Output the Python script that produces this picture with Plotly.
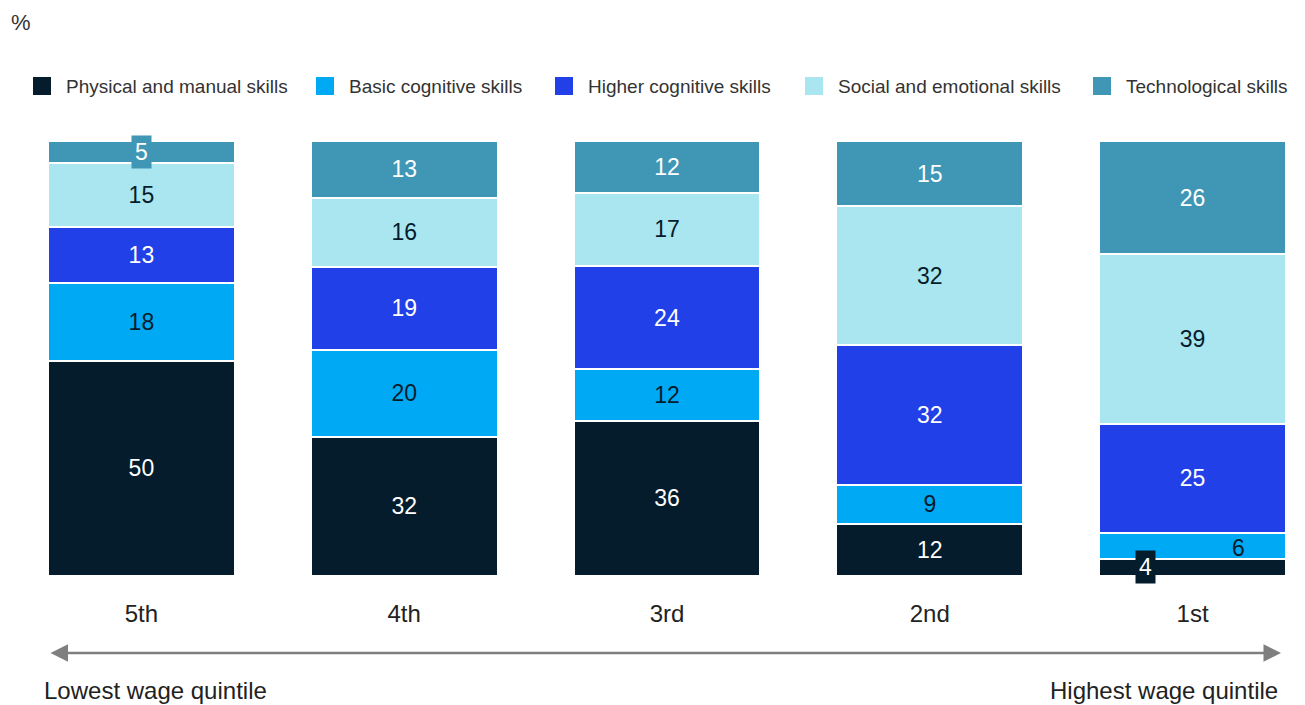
import plotly.graph_objects as go

quintiles = ["5th", "4th", "3rd", "2nd", "1st"]
series_names = ["Physical and manual skills", "Basic cognitive skills", "Higher cognitive skills",
                "Social and emotional skills", "Technological skills"]
physical = [50, 32, 36, 12, 4]
basic = [18, 20, 12, 9, 6]
higher = [13, 19, 24, 32, 25]
social = [15, 16, 17, 32, 39]
tech = [5, 13, 12, 15, 26]

series_values = [physical, basic, higher, social, tech]
colors = ["#051C2C", "#00A9F4", "#2140E8", "#AAE6F0", "#3F97B5"]
text_colors = ["white", "#051C2C", "white", "#051C2C", "white"]

FONT = "Liberation Sans"
OFF = 8  # page body margin
W, H = 1305 - OFF, 705 - OFF
# plot area in reference (window) pixels
L, R, T, B = 48, 1286, 141, 576

def px(x):
    return (x - L) / (R - L)

def py(y):
    return (B - y) / (B - T)

totals = [sum(v[i] for v in series_values) for i in range(len(quintiles))]

NUM = 23
fig = go.Figure()
small = 7
for name, vals, col, tc in zip(series_names, series_values, colors, text_colors):
    texts = [str(v) if v >= small else "" for v in vals]
    fig.add_trace(go.Bar(
        x=quintiles, y=vals, name=name, marker=dict(color=col, line=dict(color="white", width=2)),
        text=texts, textposition="inside", insidetextanchor="middle",
        textfont=dict(color=tc, size=NUM, family=FONT), width=0.711, showlegend=False,
    ))

# annotations for small segments
annotations = []
for si, (vals, col, tc) in enumerate(zip(series_values, colors, text_colors)):
    for qi, v in enumerate(vals):
        if v >= small:
            continue
        below = sum(series_values[k][qi] for k in range(si))
        mid = (below + v / 2) / totals[qi] * 100
        if si == 0:
            annotations.append(dict(x=qi, y=mid, xref="x", yref="y", text=str(v), showarrow=False,
                                    xshift=-47, yshift=0, bgcolor=col,
                                    font=dict(color="white", size=NUM, family=FONT), borderpad=3))
        elif si == 1:
            annotations.append(dict(x=qi, y=mid, xref="x", yref="y", text=str(v), showarrow=False,
                                    xshift=46, yshift=-2, font=dict(color=tc, size=NUM, family=FONT)))
        else:
            annotations.append(dict(x=qi, y=mid, xref="x", yref="y", text=str(v), showarrow=False,
                                    bgcolor=col, font=dict(color="white", size=NUM, family=FONT),
                                    borderpad=3))

# manual legend
box_x = [33, 316, 555, 805, 1093]
for name, col, bx in zip(series_names, colors, box_x):
    fig.add_shape(type="rect", xref="paper", yref="paper", x0=px(bx), x1=px(bx + 18),
                  y0=py(95), y1=py(77), fillcolor=col, line=dict(width=0))
    annotations.append(dict(x=px(bx + 31), y=py(86), xref="paper", yref="paper", text=name,
                            showarrow=False, xanchor="left", yanchor="middle",
                            font=dict(size=19, color="#333333", family=FONT)))

annotations += [
    dict(x=px(9), y=py(22), xref="paper", yref="paper", text="%", showarrow=False,
         xanchor="left", yanchor="middle", font=dict(size=22, color="#333333", family=FONT)),
    dict(x=px(1281), y=py(653), ax=-(1281 - 49), ay=0, xref="paper", yref="paper",
         axref="pixel", ayref="pixel", text="", showarrow=True, arrowside="end+start",
         arrowhead=2, arrowsize=1.4, arrowwidth=2.5, arrowcolor="#7F7F7F"),
    dict(x=px(42), y=py(690), xref="paper", yref="paper", text="Lowest wage quintile", showarrow=False,
         xanchor="left", yanchor="middle", font=dict(size=24, color="#222222", family=FONT)),
    dict(x=px(1280), y=py(690), xref="paper", yref="paper", text="Highest wage quintile", showarrow=False,
         xanchor="right", yanchor="middle", font=dict(size=24, color="#222222", family=FONT)),
]

fig.update_layout(
    barmode="stack", barnorm="percent",
    width=W, height=H, margin=dict(l=L - OFF, r=1305 - R, t=T - OFF, b=705 - B, pad=0),
    plot_bgcolor="white", paper_bgcolor="white",
    annotations=annotations,
    uniformtext=dict(mode="show", minsize=10),
)
fig.update_xaxes(range=[-0.3555, 4.3555], showgrid=False, zeroline=False, showline=False,
                 ticks="outside", ticklen=16, tickcolor="rgba(0,0,0,0)",
                 tickfont=dict(size=24, color="#222222", family=FONT))
fig.update_yaxes(range=[0, 100], visible=False, showgrid=False)

fig.write_html("out.html")
